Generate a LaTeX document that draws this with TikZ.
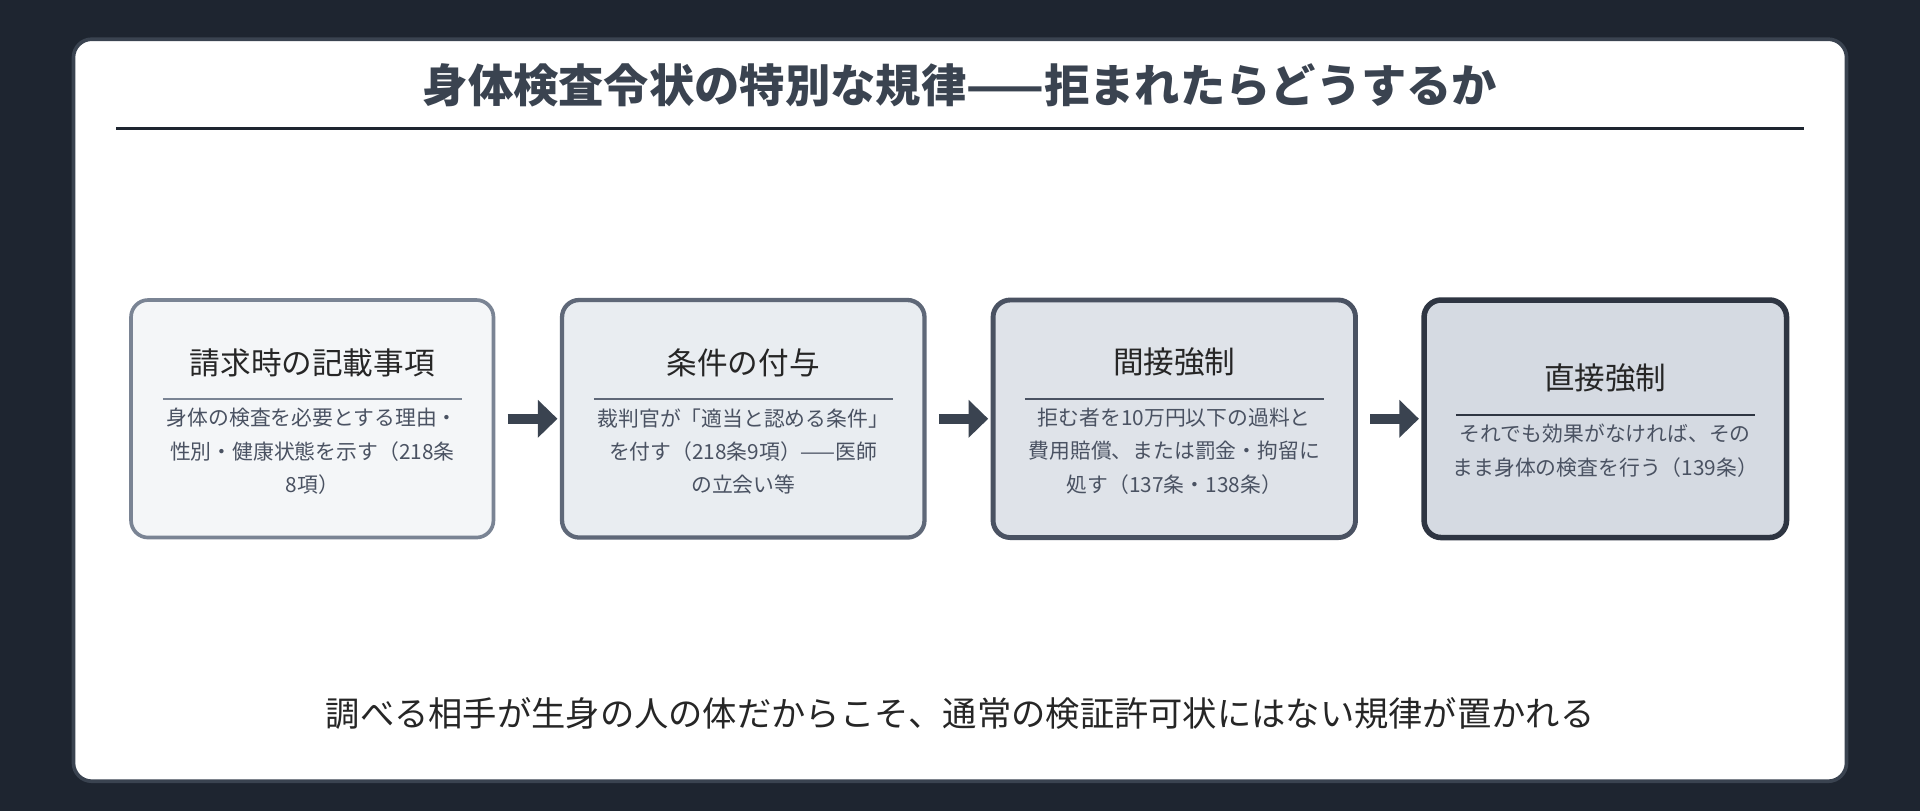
\documentclass[tikz,border=0pt]{standalone}
\usepackage{fontspec}
\setmainfont{Noto Sans CJK JP}
\usetikzlibrary{arrows.meta}
\definecolor{bgd}{HTML}{1E2530}
\definecolor{ink}{HTML}{3A4350}
\definecolor{body}{HTML}{4A5262}
\definecolor{fA}{HTML}{F4F6F8}\definecolor{fB}{HTML}{E9EDF1}\definecolor{fC}{HTML}{DFE3E9}\definecolor{fD}{HTML}{D5DAE2}
\definecolor{bA}{HTML}{7A8494}\definecolor{bB}{HTML}{5F6878}\definecolor{bC}{HTML}{4A5262}\definecolor{bD}{HTML}{2E3542}
\tikzset{
 box/.style={draw, rounded corners=14pt, minimum width=296pt, minimum height=194pt, inner sep=0pt},
 ttl/.style={font=\fontsize{25}{30}\selectfont, text=black!85},
 bd/.style={font=\fontsize{17}{27}\selectfont, text=body, align=center},
 arr/.style={ink, line width=8pt, -{Triangle[length=16pt,width=30pt]}}
}
\begin{document}
\begin{tikzpicture}[x=1pt,y=-1pt]
\fill[bgd] (0,0) rectangle (1568,662);
\useasboundingbox (0,0) rectangle (1568,662);
\draw[ink, line width=3pt, fill=white, rounded corners=15pt] (60,32) rectangle (1508,638);
\node[font=\fontsize{37}{44}\selectfont\bfseries, text=ink] (title) at (784,70) {身体検査令状の特別な規律——拒まれたらどうするか};
\draw[bgd, line width=2pt] (95,105) -- (1473,105);
\node[box, fill=fA, draw=bA, line width=3pt] (b1) at (255,342) {};
\node[box, fill=fB, draw=bB, line width=3.5pt] (b2) at (607,342) {};
\node[box, fill=fC, draw=bC, line width=4pt] (b3) at (959,342) {};
\node[box, fill=fD, draw=bD, line width=4.5pt] (b4) at (1311,342) {};
\node[ttl] (t1) at (255,296) {請求時の記載事項};
\node[ttl] (t2) at (607,296) {条件の付与};
\node[ttl] (t3) at (959,296) {間接強制};
\node[ttl] (t4) at (1311,309) {直接強制};
\draw[bA, line width=1.5pt] (133,326) -- (377,326);
\draw[bB, line width=1.5pt] (485,326) -- (729,326);
\draw[bC, line width=1.5pt] (837,326) -- (1081,326);
\draw[bD, line width=1.5pt] (1189,339) -- (1433,339);
\node[bd, anchor=north] (d1) at (255,330) {身体の検査を必要とする理由・\\性別・健康状態を示す（218条\\8項）};
\node[bd, anchor=north] (d2) at (607,330) {裁判官が「適当と認める条件」\\を付す（218条9項）——医師\\の立会い等};
\node[bd, anchor=north] (d3) at (959,330) {拒む者を10万円以下の過料と\\費用賠償、または罰金・拘留に\\処す（137条・138条）};
\node[bd, anchor=north] (d4) at (1311,343) {それでも効果がなければ、その\\まま身体の検査を行う（139条）};
\draw[arr] (b1.east)++(10,0) -- ([xshift=-2pt]b2.west);
\draw[arr] (b2.east)++(10,0) -- ([xshift=-2pt]b3.west);
\draw[arr] (b3.east)++(10,0) -- ([xshift=-2pt]b4.west);
\node[font=\fontsize{28}{34}\selectfont, text=black!85] (foot) at (784,583) {調べる相手が生身の人の体だからこそ、通常の検証許可状にはない規律が置かれる};
\end{tikzpicture}
\end{document}
